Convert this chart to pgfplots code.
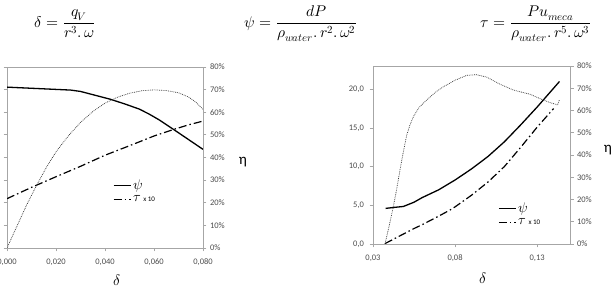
\documentclass[border=0pt]{standalone}
\usepackage{fontspec}
\usepackage{unicode-math}
\setmainfont{Carlito}
\setmathfont{Latin Modern Math}
\usepackage{pgfplots}
\pgfplotsset{compat=1.18}

\pgfplotsset{
  base/.style={
    scale only axis,
    clip mode=individual,
    axis line style={draw=black!35, line width=0.8pt},
    every tick/.style={draw=black!35, line width=0.8pt},
    tick align=outside,
    major tick length=3.5pt,
    ticklabel style={font=\fontsize{8.5}{9}\selectfont, text=black!70},
    /pgf/number format/assume math mode=true,
    /pgf/number format/use comma,
    /pgf/number format/fixed,
    /pgf/number format/fixed zerofill,
    scaled x ticks=false, scaled y ticks=false,
  },
  psi/.style={black, line width=1.3pt},
  tau/.style={black, line width=1.2pt, dash pattern=on 8pt off 3pt on 1.5pt off 3pt},
  eta/.style={black!80, line width=0.7pt, dash pattern=on 0.8pt off 1pt},
  leg/.style={legend style={draw=none, fill=none, at={#1}, anchor=north west,
      font=\fontsize{14}{14}\selectfont, row sep=1pt, inner sep=0pt},
      legend cell align=left},
}

\begin{document}
\begin{tikzpicture}
\path[use as bounding box] (0pt,0pt) rectangle (614pt,289pt);

% equations
\node at (65pt,265pt) {\fontsize{15.5}{17}\selectfont $\displaystyle \delta=\frac{q_V}{r^3.\,\omega}$};
\node at (301pt,265pt) {\fontsize{15.5}{17}\selectfont $\displaystyle \psi=\frac{dP}{\rho_{water}.\,r^2.\,\omega^2}$};
\node at (536pt,265pt) {\fontsize{15.5}{17}\selectfont $\displaystyle \tau=\frac{Pu_{meca}}{\rho_{water}.\,r^5.\,\omega^3}$};

% ---------------- left chart ----------------
\begin{axis}[base, at={(7pt,41pt)}, anchor=south west, width=196pt, height=181pt,
  xmin=0, xmax=0.08, ymin=0, ymax=80,
  xtick={0,0.02,0.04,0.06,0.08},
  xticklabel style={/pgf/number format/precision=3, yshift=-4pt},
  ytick={0,10,20,30,40,50,60,70,80}, yticklabels={},
  xtick pos=left, ytick pos=left,
  leg={(0.54,0.39)}]
\addplot[psi] coordinates {(0,71.1) (0.010,70.6) (0.020,70.1) (0.026,69.8) (0.030,69.2) (0.036,67.5) (0.042,65.8) (0.048,63.7) (0.054,61.4) (0.058,59.2) (0.062,56.7) (0.068,52.4) (0.074,48.0) (0.080,43.6)};
\addlegendentry{$\psi$}
\addplot[tau] coordinates {(0,21.8) (0.010,26.8) (0.020,31.5) (0.030,36.1) (0.040,41.0) (0.050,45.2) (0.060,49.5) (0.068,52.4) (0.074,54.4) (0.080,56.1)};
\addlegendentry{$\tau$\,{\fontsize{7}{7}\selectfont x 10}}
\node[font=\fontsize{15}{15}\selectfont] at (rel axis cs:0.56,-0.177) {$\delta$};
\end{axis}
\begin{axis}[base, at={(7pt,41pt)}, anchor=south west, width=196pt, height=181pt,
  xmin=0, xmax=0.08, ymin=0, ymax=80,
  hide x axis, axis y line*=right,
  ytick={0,10,20,30,40,50,60,70,80},
  yticklabel={\pgfmathprintnumber[precision=0]{\tick}\%}]
\addplot[eta] coordinates {(0,0) (0.004,9.5) (0.008,19) (0.012,27.5) (0.016,35.5) (0.020,42.5) (0.025,49.5) (0.030,55.5) (0.035,60.3) (0.040,64) (0.045,66.6) (0.050,68.4) (0.055,69.5) (0.060,69.9) (0.065,69.6) (0.070,68.6) (0.074,66.8) (0.077,64.5) (0.080,61.3)};
\node[font=\fontsize{15}{15}\selectfont] at (rel axis cs:1.204,0.475) {η};
\end{axis}

% ---------------- right chart ----------------
\begin{axis}[base, at={(373pt,45pt)}, anchor=south west, width=197pt, height=178pt,
  xmin=0.03, xmax=0.15, ymin=0, ymax=23,
  xtick={0.03,0.08,0.13},
  xticklabel style={/pgf/number format/precision=2, yshift=-4pt},
  ytick={0,5,10,15,20},
  yticklabel style={/pgf/number format/precision=1, xshift=-2pt},
  xtick pos=left, ytick pos=left,
  leg={(0.635,0.245)}]
\addplot[psi] coordinates {(0.0377,4.6) (0.0425,4.72) (0.0485,4.85) (0.055,5.4) (0.060,6.0) (0.070,7.0) (0.080,8.27) (0.090,9.7) (0.100,11.3) (0.110,13.2) (0.120,15.4) (0.130,17.7) (0.1436,21.0)};
\addlegendentry{$\psi$}
\addplot[tau] coordinates {(0.0373,0.05) (0.045,0.9) (0.055,2.0) (0.060,2.5) (0.070,3.6) (0.077,4.4) (0.080,4.8) (0.090,6.3) (0.100,8.0) (0.110,10.0) (0.120,12.5) (0.130,15.1) (0.140,17.5)};
\addlegendentry{$\tau$\,{\fontsize{7}{7}\selectfont x 10}}
\node[font=\fontsize{15}{15}\selectfont] at (rel axis cs:0.557,-0.193) {$\delta$};
\end{axis}
\begin{axis}[base, at={(373pt,45pt)}, anchor=south west, width=197pt, height=178pt,
  xmin=0.03, xmax=0.15, ymin=0, ymax=80,
  hide x axis, axis y line*=right,
  ytick={0,10,20,30,40,50,60,70,80},
  yticklabel={\pgfmathprintnumber[precision=0]{\tick}\%}]
\addplot[eta] coordinates {(0.0373,0) (0.040,8.7) (0.0424,16.8) (0.0445,25) (0.0465,33.5) (0.0485,41.5) (0.0505,48.8) (0.0525,53.5) (0.0546,57.2) (0.058,61.3) (0.0627,64.7) (0.068,68.2) (0.0729,70.7) (0.080,73.6) (0.0871,75.8) (0.093,76.1) (0.0993,75.0) (0.1074,71.8) (0.1155,69.2) (0.1257,67.3) (0.1318,65.3) (0.138,63.5) (0.1425,62.5) (0.1436,65.0)};
\node[font=\fontsize{15}{15}\selectfont] at (rel axis cs:1.193,0.528) {η};
\end{axis}
\end{tikzpicture}
\end{document}
